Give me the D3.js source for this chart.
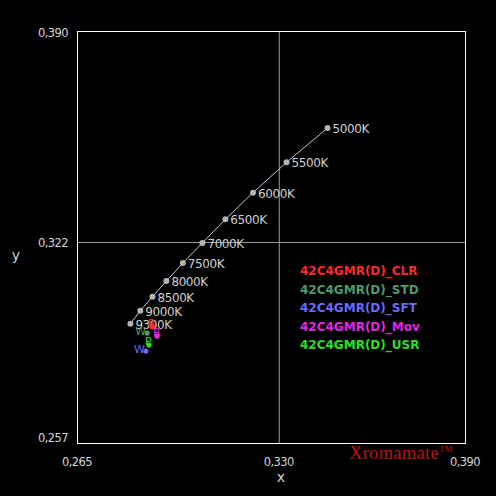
<!DOCTYPE html>
<html><head><meta charset="utf-8">
<script src="https://cdn.jsdelivr.net/npm/d3@7"></script>
<style>body{margin:0;background:#000;}svg{display:block;}</style>
</head><body>
<svg id="c" width="496" height="496"></svg>
<script>
// Daylight locus points
const cctLabels = ["5000K","5500K","6000K","6500K","7000K","7500K","8000K","8500K","9000K","9300K"];
const cctX = [0.3457,0.3325,0.3217,0.3128,0.3054,0.2991,0.2938,0.2893,0.2854,0.2822];
const cctY = [0.3587,0.3476,0.3378,0.3292,0.3216,0.3151,0.3093,0.3042,0.2997,0.2955];
// Measured white points per mode
const seriesNames = ["42C4GMR(D)_CLR","42C4GMR(D)_STD","42C4GMR(D)_SFT","42C4GMR(D)_Mov","42C4GMR(D)_USR"];
const seriesColors = ["#ff2828","#4f9a6c","#6a6aff","#e028e0","#28e028"];
const seriesX = [0.2892,0.2876,0.2872,0.2908,0.2882];
const seriesY = [0.2945,0.2925,0.2867,0.2915,0.2886];
const seriesMark = ["R","W","W","R","P"];
const xTicks = ["0,265","0,330","0,390"];
const xTickVals = [0.265,0.330,0.390];
const yTicks = ["0,257","0,322","0,390"];
const yTickVals = [0.257,0.322,0.390];

const svg = d3.select("#c");
const L=77,R=465,T=31,B=443;
const x = d3.scaleLinear().domain([0.265,0.390]).range([L,R]);
const y = d3.scaleLinear().domain([0.257,0.390]).range([B,T]);
const lab = "#d4d4d4";

// grid lines
svg.append("line").attr("x1",x(0.330)+0.5).attr("x2",x(0.330)+0.5).attr("y1",T).attr("y2",B).attr("stroke","#9a9a9a");
svg.append("line").attr("x1",L).attr("x2",R).attr("y1",Math.round(y(0.322))+0.5).attr("y2",Math.round(y(0.322))+0.5).attr("stroke","#9a9a9a");
// frame
svg.append("rect").attr("x",L+0.5).attr("y",T+0.5).attr("width",R-L).attr("height",B-T).attr("fill","none").attr("stroke","#fff");

// tick labels
svg.selectAll(".xt").data(xTicks).enter().append("text")
  .attr("x",(d,i)=>x(xTickVals[i])).attr("y",466).attr("text-anchor","middle")
  .attr("fill",lab).attr("font-family","'DejaVu Sans', sans-serif").attr("font-size",11.5).attr("letter-spacing",-0.6).text(d=>d);
svg.selectAll(".yt").data(yTicks).enter().append("text")
  .attr("x",68).attr("y",(d,i)=>y(yTickVals[i])+(i==0?-1:(i==2?6:5))).attr("text-anchor","end")
  .attr("fill",lab).attr("font-family","'DejaVu Sans', sans-serif").attr("font-size",11.5).attr("letter-spacing",-0.6).text(d=>d);
svg.append("text").attr("x",281).attr("y",482).attr("text-anchor","middle").attr("fill",lab)
  .attr("font-family","'DejaVu Sans', sans-serif").attr("font-size",14).text("x");
svg.append("text").attr("x",16).attr("y",260).attr("text-anchor","middle").attr("fill",lab)
  .attr("font-family","'DejaVu Sans', sans-serif").attr("font-size",14).text("y");

// locus line
const pts = cctX.map((v,i)=>[x(v),y(cctY[i])]);
svg.append("path").attr("d",d3.line()(pts)).attr("fill","none").attr("stroke","#c8c8c8").attr("stroke-width",1);
svg.selectAll(".cp").data(pts).enter().append("circle").attr("cx",d=>d[0]).attr("cy",d=>d[1]).attr("r",3).attr("fill","#b4b4b4");
svg.selectAll(".cl").data(pts).enter().append("text").attr("x",d=>d[0]+5).attr("y",d=>d[1]+5)
  .attr("fill","#cfcfcf").attr("font-family","'DejaVu Sans', sans-serif").attr("font-size",12).attr("letter-spacing",-0.4)
  .text((d,i)=>cctLabels[i]);

// series marks
seriesNames.forEach((n,i)=>{
  const px=x(seriesX[i]), py=y(seriesY[i]);
  svg.append("text").attr("x",px-(seriesMark[i]=="W"?12:4)).attr("y",py+(seriesMark[i]=="W"?2:0))
    .attr("fill",seriesColors[i]).attr("font-family","'DejaVu Sans', sans-serif").attr("font-size",11).text(seriesMark[i]);
  svg.append("circle").attr("cx",px).attr("cy",py).attr("r",2.6).attr("fill",seriesColors[i]);
});

// legend
seriesNames.forEach((n,i)=>{
  svg.append("text").attr("x",300).attr("y",275+i*18.5).attr("fill",seriesColors[i])
    .attr("font-family","'DejaVu Sans', sans-serif").attr("font-size",12).attr("font-weight","bold").text(n);
});

// brand
const br = svg.append("text").attr("x",349).attr("y",459).attr("fill","#c01010")
  .attr("font-family","'Liberation Serif', serif").attr("font-size",18.5).attr("letter-spacing",0.3);
br.append("tspan").text("Xromamate");
br.append("tspan").attr("font-size",9).attr("dy",-7).text("TM");
</script>
</body></html>
